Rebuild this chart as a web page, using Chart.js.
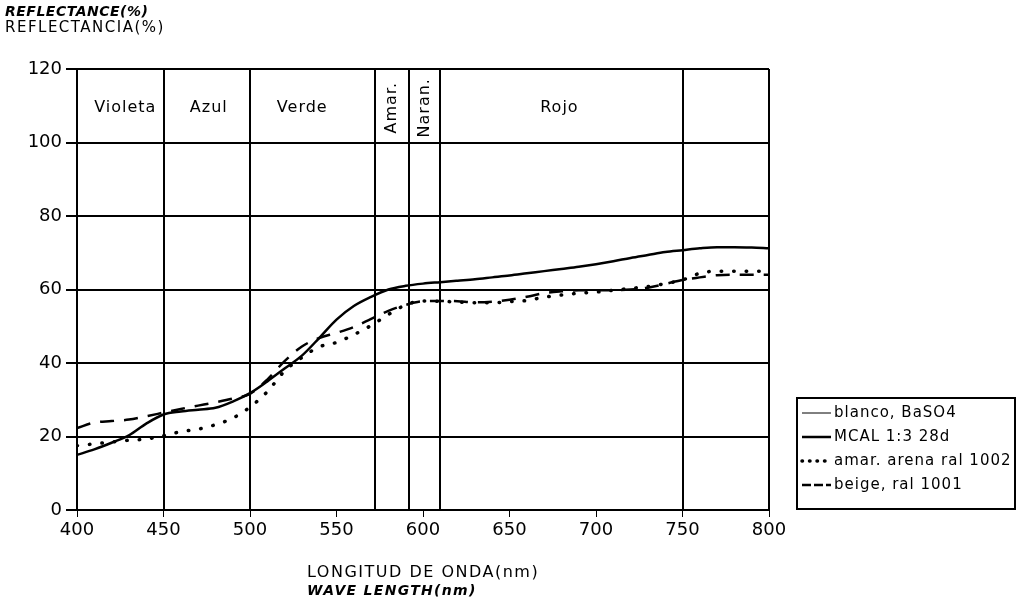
<!DOCTYPE html>
<html>
<head>
<meta charset="utf-8">
<script src="https://cdn.jsdelivr.net/npm/chart.js@4/dist/chart.umd.min.js"></script>
<style>
  body { margin: 0; background: #fff; }
  #wrap { width: 1018px; height: 598px; }
</style>
</head>
<body>
<div id="wrap"><canvas id="canvas"></canvas></div>
<script>
// longitudes de onda (nm)
const longitudes = [400, 410, 420, 430, 440, 450, 460, 470, 480, 490, 500, 510, 520, 530, 540, 550, 560, 570, 580, 590, 600,
  610, 620, 630, 640, 650, 660, 670, 680, 690, 700, 710, 720, 730, 740, 750, 760, 770, 780, 790, 800];

// series
const blanco = [100, 100, 100, 100, 100, 100, 100, 100, 100, 100, 100, 100, 100, 100, 100, 100, 100, 100, 100, 100, 100,
  100, 100, 100, 100, 100, 100, 100, 100, 100, 100, 100, 100, 100, 100, 100, 100, 100, 100, 100, 100];
const mcal = [15, 16.5, 18.3, 20.3, 23.5, 26, 26.8, 27.3, 27.8, 29.5, 31.8, 35, 38.5, 42, 46.8, 51.8, 55.5, 58, 60, 61, 61.6,
  62, 62.4, 62.8, 63.3, 63.8, 64.4, 65, 65.6, 66.2, 66.9, 67.7, 68.6, 69.4, 70.2, 70.7, 71.2, 71.5, 71.5, 71.4, 71.2];
const amarArena = [17.5, 18, 18.5, 19, 19.3, 20.2, 21.3, 22, 23.2, 25, 28, 32.2, 37.8, 41.5, 44.4, 45.6, 47.7, 50.2, 53.2, 55.8, 56.9,
  56.8, 56.6, 56.4, 56.4, 56.7, 57, 57.9, 58.5, 59, 59.3, 59.8, 60.3, 60.8, 61.6, 62.6, 64.4, 65, 65, 65, 65];
const beige = [22.3, 23.8, 24.2, 24.6, 25.5, 26.5, 27.5, 28.4, 29.3, 30.3, 31.6, 35.5, 40.5, 44.5, 46.8, 48.2, 49.8, 52, 54.2, 55.8, 56.8,
  56.9, 56.8, 56.5, 56.7, 57.2, 58, 59, 59.5, 59.8, 59.8, 59.8, 60, 60.5, 61.5, 62.6, 63.3, 63.9, 64, 64, 64];

// bandas de color del espectro
const bandasLimites = [450, 500, 572, 592, 610, 750];
const bandas = [
  { nombre: "Violeta", desde: 400, hasta: 450, vertical: false },
  { nombre: "Azul", desde: 450, hasta: 500, vertical: false },
  { nombre: "Verde", desde: 500, hasta: 572, vertical: false },
  { nombre: "Amar.", desde: 572, hasta: 592, vertical: true },
  { nombre: "Naran.", desde: 592, hasta: 610, vertical: true },
  { nombre: "Rojo", desde: 610, hasta: 750, vertical: false },
];
// pequeños ajustes de posicion de las etiquetas (px)
const ajusteBanda = { Violeta: 5, Azul: 2, Verde: -10, Rojo: -2 };

const FUENTE = "'DejaVu Sans', Verdana, sans-serif";

const puntos = (ys) => longitudes.map((x, i) => ({ x: x, y: ys[i] }));

// lineas verticales, bandas, titulos y leyenda
const decorado = {
  id: "decorado",
  beforeDatasetsDraw(chart) {
    const ctx = chart.ctx;
    const x = chart.scales.x;
    const y = chart.scales.y;
    const top = chart.chartArea.top;
    const bottom = chart.chartArea.bottom;
    ctx.save();
    ctx.strokeStyle = "#000";
    ctx.lineWidth = 2;
    bandasLimites.concat([800]).forEach((nm) => {
      const px = Math.round(x.getPixelForValue(nm));
      ctx.beginPath();
      ctx.moveTo(px, top);
      ctx.lineTo(px, bottom);
      ctx.stroke();
    });

    const yBanda = (y.getPixelForValue(100) + y.getPixelForValue(120)) / 2 + 2;
    ctx.fillStyle = "#000";
    ctx.font = "16px " + FUENTE;
    ctx.letterSpacing = "1px";
    ctx.textAlign = "center";
    ctx.textBaseline = "middle";
    bandas.forEach((b) => {
      const cx = (x.getPixelForValue(b.desde) + x.getPixelForValue(b.hasta)) / 2 + (ajusteBanda[b.nombre] || 0);
      if (b.vertical) {
        ctx.save();
        ctx.translate(cx, yBanda);
        ctx.rotate(-Math.PI / 2);
        ctx.fillText(b.nombre, 0, 0);
        ctx.restore();
      } else {
        ctx.fillText(b.nombre, cx, yBanda);
      }
    });
    ctx.letterSpacing = "0px";
    ctx.restore();
  },
  afterDraw(chart) {
    const ctx = chart.ctx;
    ctx.save();
    ctx.fillStyle = "#000";
    ctx.textAlign = "left";
    ctx.textBaseline = "middle";
    ctx.letterSpacing = "0.5px";
    ctx.font = "italic bold 14px " + FUENTE;
    ctx.fillText("REFLECTANCE(%)", 5, 12);
    ctx.letterSpacing = "1.5px";
    ctx.font = "15px " + FUENTE;
    ctx.fillText("REFLECTANCIA(%)", 5, 28);
    ctx.font = "16px " + FUENTE;
    ctx.fillText("LONGITUD DE ONDA(nm)", 307, 573);
    ctx.letterSpacing = "1.3px";
    ctx.font = "italic bold 14px " + FUENTE;
    ctx.fillText("WAVE LENGTH(nm)", 307, 591);

    // leyenda
    const lx = 797, ly = 398, lw = 218, lh = 111;
    ctx.strokeStyle = "#000";
    ctx.lineWidth = 2;
    ctx.strokeRect(lx, ly, lw, lh);
    ctx.letterSpacing = "1px";
    ctx.font = "15px " + FUENTE;
    chart.data.datasets.forEach((ds, i) => {
      const yy = ly + 15 + i * 24;
      ctx.save();
      ctx.strokeStyle = "#000";
      ctx.lineWidth = ds.borderWidth;
      ctx.lineCap = ds.borderCapStyle || "butt";
      ctx.setLineDash(ds.legendDash || ds.borderDash || []);
      ctx.beginPath();
      ctx.moveTo(lx + 5, yy);
      ctx.lineTo(lx + 34, yy);
      ctx.stroke();
      ctx.restore();
      ctx.fillText(ds.label, lx + 37, yy);
    });
    ctx.letterSpacing = "0px";
    ctx.restore();
  },
};

const ctx = document.getElementById("canvas").getContext("2d");
const grafico = new Chart(ctx, {
  type: "line",
  data: {
    datasets: [
      {
        label: "blanco, BaSO4",
        data: puntos(blanco),
        borderColor: "#000",
        borderWidth: 1,
        pointRadius: 0,
        legendDash: [],
      },
      {
        label: "MCAL 1:3 28d",
        data: puntos(mcal),
        borderColor: "#000",
        borderWidth: 2.5,
        pointRadius: 0,
        cubicInterpolationMode: "monotone",
      },
      {
        label: "amar. arena ral 1002",
        data: puntos(amarArena),
        borderColor: "#000",
        borderWidth: 3.5,
        borderDash: [0.5, 12],
        legendDash: [0.5, 7],
        borderCapStyle: "round",
        pointRadius: 0,
        cubicInterpolationMode: "monotone",
      },
      {
        label: "beige, ral 1001",
        data: puntos(beige),
        borderColor: "#000",
        borderWidth: 2.5,
        borderDash: [14, 10],
        legendDash: [9, 3],
        pointRadius: 0,
        cubicInterpolationMode: "monotone",
      },
    ],
  },
  options: {
    responsive: true,
    maintainAspectRatio: false,
    animation: false,
    layout: { padding: { left: 0, right: 249, top: 69, bottom: 0 } },
    plugins: {
      legend: { display: false },
      tooltip: { enabled: false },
    },
    scales: {
      x: {
        type: "linear",
        min: 400,
        max: 800,
        afterFit: (s) => { s.height = 88; },
        ticks: {
          stepSize: 50,
          color: "#000",
          font: { family: FUENTE, size: 18 },
          padding: 3,
        },
        grid: {
          drawOnChartArea: false,
          drawTicks: true,
          tickLength: 7,
          color: "#000",
          lineWidth: 1,
        },
        border: { color: "#000", width: 2 },
      },
      y: {
        min: 0,
        max: 120,
        afterFit: (s) => { s.width = 77; },
        ticks: {
          stepSize: 20,
          color: "#000",
          font: { family: FUENTE, size: 18 },
          padding: 4,
        },
        grid: {
          color: "#000",
          lineWidth: 2,
          drawTicks: true,
          tickLength: 11,
        },
        border: { color: "#000", width: 2 },
      },
    },
  },
  plugins: [decorado],
});
</script>
</body>
</html>
